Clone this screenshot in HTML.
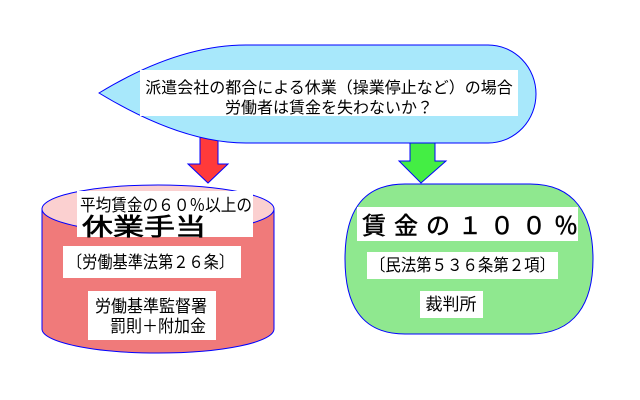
<!DOCTYPE html>
<html><head><meta charset="utf-8"><style>
body{margin:0;background:#fff;}
svg{display:block;}
text{font-family:"Liberation Sans","Noto Sans CJK JP",sans-serif;fill:#000;}
</style></head><body>
<svg width="640" height="400" viewBox="0 0 640 400" xmlns="http://www.w3.org/2000/svg">

<!-- arrows -->
<path d="M200,137 L218,137 L218,164 L228,164 L208,183 L188,164 L200,164 Z" fill="#ff3a3a" stroke="#0000ff" stroke-width="1"/>
<path d="M410,143 L435,143 L435,161 L446,161 L421,183 L399,161 L410,161 Z" fill="#44ee44" stroke="#0000ff" stroke-width="1"/>

<!-- top shape -->
<path d="M99,93 C150,62 200,45 246,45 L488,45 A48,49 0 0 1 488,143 L246,143 C200,143 150,124 99,93 Z" fill="#a8e8fb" stroke="#0000ff" stroke-width="1"/>
<rect x="140" y="70" width="378" height="46" fill="#fff"/>
<text x="329" y="93" font-size="16" text-anchor="middle">派遣会社の都合による休業（操業停止など）の場合</text>
<text x="329" y="113" font-size="16" text-anchor="middle">労働者は賃金を失わないか？</text>

<!-- cylinder -->
<path d="M42,209 L42,329 A116,24 0 0 0 274,329 L274,209" fill="#f07a7a" stroke="#0000ff" stroke-width="1"/>
<ellipse cx="158" cy="209" rx="116" ry="24" fill="#fbd0d0" stroke="#0000ff" stroke-width="1"/>
<rect x="77" y="191" width="176" height="46" fill="#fff"/>
<text x="80" y="211" font-size="17" textLength="172" lengthAdjust="spacingAndGlyphs">平均賃金の６０％以上の</text>
<text x="82" y="235" font-size="24" textLength="124" lengthAdjust="spacingAndGlyphs" stroke="#000" stroke-width="0.6">休業手当</text>
<rect x="63" y="246" width="178" height="32" fill="#fff"/>
<text x="67" y="268" font-size="17" textLength="167" lengthAdjust="spacingAndGlyphs">〔労働基準法第２６条〕</text>
<rect x="88" y="291" width="128" height="49" fill="#fff"/>
<text x="95" y="312" font-size="17" textLength="112" lengthAdjust="spacingAndGlyphs">労働基準監督署</text>
<text x="110" y="332" font-size="17" textLength="96" lengthAdjust="spacingAndGlyphs">罰則＋附加金</text>

<!-- right shape -->
<path d="M405,184 L530,184 C575,184 593,215 593,259 C593,303 575,334 530,334 L405,334 C360,334 345,303 345,259 C345,215 360,184 405,184 Z" fill="#8fe88f" stroke="#0000ff" stroke-width="1"/>
<rect x="357" y="207" width="221" height="34" fill="#fff"/>
<text x="362" y="234" font-size="24" textLength="216" lengthAdjust="spacing" stroke="#000" stroke-width="0.5">賃金の１００％</text>
<rect x="367" y="252" width="191" height="27" fill="#fff"/>
<text x="370" y="271" font-size="17" textLength="185" lengthAdjust="spacingAndGlyphs">〔民法第５３６条第２項〕</text>
<rect x="420" y="291" width="63" height="27" fill="#fff"/>
<text x="451" y="310" font-size="17" text-anchor="middle">裁判所</text>
</svg>
</body></html>
